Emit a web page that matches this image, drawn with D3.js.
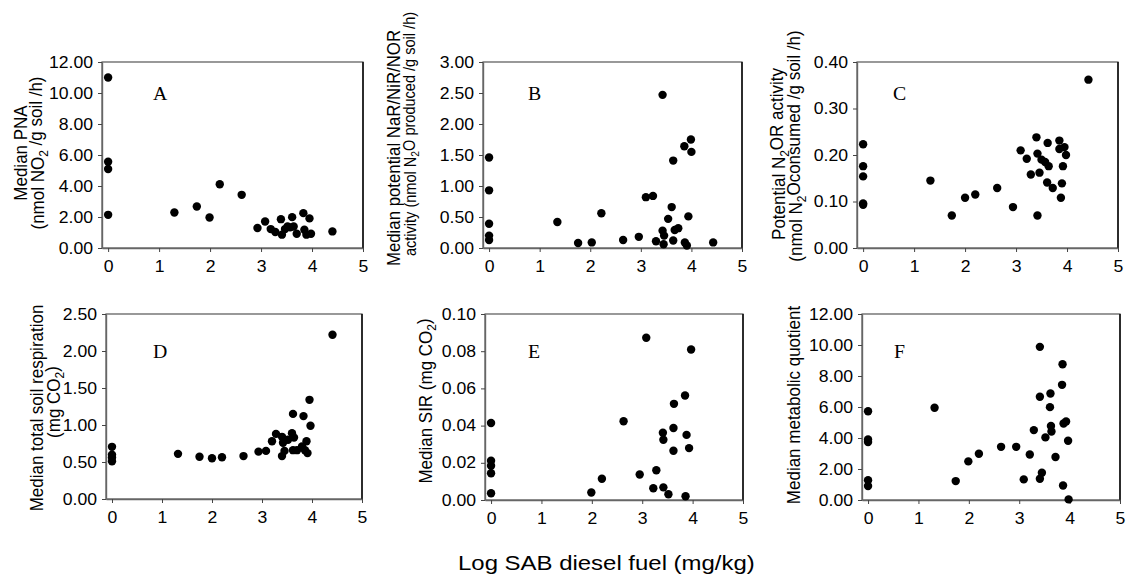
<!DOCTYPE html>
<html>
<head>
<meta charset="utf-8">
<script src="https://cdn.jsdelivr.net/npm/d3@7"></script>
<style>
  body { margin: 0; background: #fff; }
  text { font-family: "Liberation Sans", Arial, sans-serif; fill: #000; }
  .letter { font-family: "Liberation Serif", "Times New Roman", serif; }
</style>
</head>
<body>
<div id="chart-container"></div>
<script>
// x = log SAB diesel fuel (mg/kg), y = panel value
const pna = [[0,11.0],[0,5.57],[0,5.1],[0,2.14],[1.30,2.29],[1.74,2.68],[1.99,1.97],[2.19,4.11],[2.62,3.43],
  [2.93,1.29],[3.08,1.71],[3.19,1.22],[3.28,1.03],[3.39,1.86],[3.41,0.86],[3.47,1.22],[3.52,1.39],[3.57,1.33],
  [3.61,1.99],[3.64,1.39],[3.70,0.92],[3.83,2.25],[3.85,1.18],[3.89,0.86],[3.95,1.91],[3.98,0.92],[4.40,1.07]];
const denit = [[0,1.46],[0,0.93],[0,0.39],[0,0.20],[0,0.13],[1.35,0.42],[1.76,0.08],[2.03,0.09],[2.22,0.56],
  [2.65,0.13],[2.96,0.18],[3.10,0.82],[3.24,0.84],[3.30,0.11],[3.43,2.47],[3.43,0.28],[3.45,0.06],[3.46,0.20],
  [3.54,0.47],[3.61,0.66],[3.64,1.41],[3.64,0.12],[3.67,0.29],[3.74,0.32],[3.86,1.64],[3.87,0.09],[3.91,0.04],
  [3.94,0.51],[3.99,1.75],[4.00,1.55],[4.43,0.09]];
const n2or = [[0,0.223],[0,0.176],[0,0.154],[0,0.096],[0,0.093],[1.32,0.145],[1.74,0.070],[2.00,0.108],[2.20,0.115],
  [2.63,0.129],[2.94,0.088],[3.09,0.210],[3.21,0.192],[3.29,0.158],[3.40,0.238],[3.42,0.203],[3.42,0.070],
  [3.46,0.162],[3.50,0.190],[3.57,0.185],[3.61,0.141],[3.62,0.226],[3.64,0.176],[3.72,0.129],[3.85,0.231],
  [3.85,0.213],[3.88,0.108],[3.90,0.139],[3.92,0.176],[3.95,0.217],[3.98,0.200],[4.42,0.362]];
const resp = [[0,0.705],[0,0.60],[0,0.56],[0,0.51],[1.32,0.61],[1.75,0.57],[2.00,0.55],[2.20,0.565],[2.63,0.58],
  [2.93,0.64],[3.08,0.65],[3.20,0.78],[3.28,0.88],[3.40,0.84],[3.40,0.58],[3.42,0.76],[3.45,0.65],[3.52,0.80],
  [3.60,0.89],[3.62,1.15],[3.62,0.66],[3.64,0.83],[3.70,0.66],[3.80,0.71],[3.83,1.12],[3.86,0.66],[3.89,0.78],
  [3.91,0.62],[3.95,1.34],[3.97,0.99],[4.41,2.22]];
const sir = [[0,0.0414],[0,0.0211],[0,0.0184],[0,0.0144],[0,0.0036],[1.99,0.0040],[2.20,0.0114],[2.63,0.0423],
  [2.95,0.0137],[3.08,0.0872],[3.22,0.0063],[3.28,0.0160],[3.41,0.0362],[3.42,0.0324],[3.42,0.0068],[3.52,0.0031],
  [3.62,0.0265],[3.63,0.0517],[3.62,0.0387],[3.85,0.0562],[3.86,0.0020],[3.88,0.0350],[3.93,0.0279],[3.97,0.0809]];
const qco2 = [[0,5.73],[0,3.91],[0,3.74],[0,1.27],[0,0.90],[1.32,5.95],[1.74,1.22],[1.99,2.49],[2.20,2.98],
  [2.64,3.43],[2.94,3.43],[3.09,1.33],[3.21,2.94],[3.29,4.51],[3.41,9.88],[3.41,6.66],[3.41,1.37],[3.45,1.76],
  [3.52,4.04],[3.61,5.99],[3.62,6.87],[3.63,4.77],[3.64,4.42],[3.72,2.77],[3.85,7.43],[3.86,8.76],[3.87,0.94],
  [3.88,4.94],[3.93,5.07],[3.97,3.82],[3.98,0.04]];

const xTicks = [0, 1, 2, 3, 4, 5];
const xTitle = "Log SAB diesel fuel (mg/kg)";

// titles: each line is a list of [text, isSubscript]; len = wanted length when the line is tight
const panels = [
  {data: pna, letter: "A", ymax: 12, nt: 6, box: [102, 363, 62, 248], lx: 51, ly: 38,
   lines: [{x: 27, y: 153, t: [["Median PNA"]]},
           {x: 44, y: 153, t: [["(nmol NO"], ["2", 1], [" /g soil /h)"]]}]},
  {data: denit, letter: "B", ymax: 3, nt: 6, box: [483, 742, 62, 248], lx: 45, ly: 38,
   lines: [{x: 400, y: 148, len: 236, t: [["Median potential NaR/NiR/NOR"]]},
           {x: 416, y: 134, len: 244, t: [["activity (nmol N"], ["2", 1], ["O produced /g soil /h)"]]}]},
  {data: n2or, letter: "C", ymax: 0.4, nt: 4, box: [857, 1118, 62, 248], lx: 36, ly: 38,
   lines: [{x: 785, y: 154, t: [["Potential N"], ["2", 1], ["OR activity"]]},
           {x: 802, y: 146, t: [["(nmol N"], ["2", 1], ["Oconsumed /g soil /h)"]]}]},
  {data: resp, letter: "D", ymax: 2.5, nt: 5, box: [106, 362, 314, 499], lx: 47, ly: 44,
   lines: [{x: 43, y: 408, t: [["Median total soil respiration"]]},
           {x: 60, y: 402, t: [["(mg CO"], ["2", 1], [")"]]}]},
  {data: sir, letter: "E", ymax: 0.1, nt: 5, box: [485, 743, 314, 500], lx: 43, ly: 44,
   lines: [{x: 432, y: 401, t: [["Median SIR (mg CO"], ["2", 1], [")"]]}]},
  {data: qco2, letter: "F", ymax: 12, nt: 6, box: [862, 1120, 314, 500], lx: 32, ly: 44,
   lines: [{x: 800, y: 405, t: [["Median metabolic quotient"]]}]}
];

const svg = d3.select("#chart-container")
  .append("svg")
    .attr("width", 1126)
    .attr("height", 582);

// the picture is a bit wider than tall, so horizontal text gets widened
function stretch(sel, k) {
  sel.each(function() {
    const w = this.getComputedTextLength();
    d3.select(this).attr("textLength", w * k).attr("lengthAdjust", "spacingAndGlyphs");
  });
}

panels.forEach(function(p) {
  const [x0, x1, y0, y1] = p.box;
  const x = d3.scaleLinear().domain([-0.12, 5]).range([x0, x1]);
  const y = d3.scaleLinear().domain([0, p.ymax]).range([y1, y0]);
  const g = svg.append("g");

  g.append("rect")
    .attr("x", x0).attr("y", y0)
    .attr("width", x1 - x0).attr("height", y1 - y0)
    .attr("fill", "none")
    .attr("stroke", "#555")
    .attr("stroke-width", 1.2);
  g.append("line")
    .attr("x1", x1).attr("x2", x1).attr("y1", y0).attr("y2", y1)
    .attr("stroke", "#111").attr("stroke-width", 1.6);

  const ya = g.append("g")
    .attr("transform", "translate(" + x0 + ",0)")
    .call(d3.axisLeft(y).ticks(p.nt).tickFormat(d3.format(".2f")).tickSize(4).tickPadding(5).tickSizeOuter(0));
  const xa = g.append("g")
    .attr("transform", "translate(0," + y1 + ")")
    .call(d3.axisBottom(x).tickValues(xTicks).tickFormat(d3.format("d")).tickSize(4).tickPadding(9).tickSizeOuter(0));

  [ya, xa].forEach(function(a) {
    a.select(".domain").attr("stroke", "#666").attr("stroke-width", 1.4);
    a.selectAll(".tick line").attr("stroke", "#444");
    a.selectAll("text").attr("font-family", null).style("font-size", "16px").attr("fill", "#000");
    stretch(a.selectAll("text"), 1.1);
  });

  g.selectAll("circle")
    .data(p.data)
    .enter()
    .append("circle")
      .attr("cx", function(d) { return x(d[0]); })
      .attr("cy", function(d) { return y(d[1]); })
      .attr("r", 4.2)
      .attr("fill", "#000");

  const lt = g.append("text")
    .attr("class", "letter")
    .attr("x", x0 + p.lx)
    .attr("y", y0 + p.ly)
    .style("font-size", "18px")
    .text(p.letter);
  stretch(lt, 1.1);

  p.lines.forEach(function(l) {
    const t = g.append("text")
      .attr("transform", "translate(" + l.x + "," + l.y + ") scale(1.12,1) rotate(-90)")
      .attr("text-anchor", "middle")
      .style("font-size", "17px");
    l.t.forEach(function(part, i) {
      const s = t.append("tspan").text(part[0]);
      if (part[1]) s.attr("dy", "0.3em").style("font-size", "12px");
      else if (i > 0) s.attr("dy", "-0.3em");
    });
    if (l.len) {
      // shrink the font so the line fits the wanted length
      const k = l.len / t.node().getComputedTextLength();
      t.style("font-size", (17 * k) + "px");
      t.selectAll("tspan").filter(function() { return this.style.fontSize; })
        .style("font-size", (12 * k) + "px");
    }
  });
});

const xt = svg.append("text")
  .attr("x", 458)
  .attr("y", 570)
  .style("font-size", "21px")
  .text(xTitle);
stretch(xt, 1.14);
</script>
</body>
</html>
